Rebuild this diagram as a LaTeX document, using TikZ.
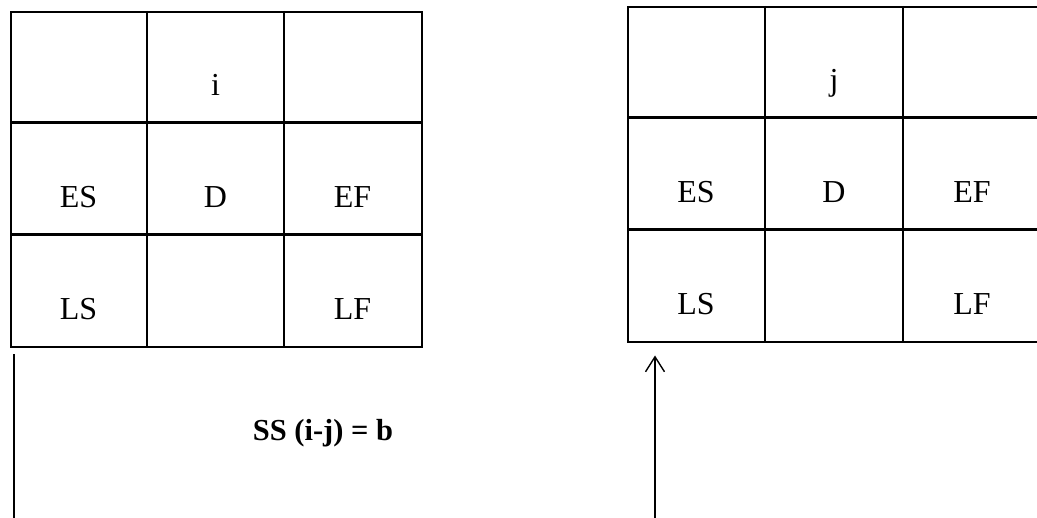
\documentclass[tikz,border=0pt]{standalone}
\usepackage{fontspec}
\setmainfont{Liberation Serif}
\usetikzlibrary{arrows.meta}

\begin{document}
\begin{tikzpicture}[x=1pt,y=-1pt,>={Straight Barb[length=15pt,width=19pt]},
  kotak/.style={draw,line width=2.4pt,inner sep=0pt,anchor=north west},
  isi/.style={anchor=base,font=\fontsize{32}{36}\selectfont},
  garis/.style={line width=1.4pt}]
\useasboundingbox (0,0) rectangle (1037,518);
\def\rh{111.7}
% two activity boxes, i and j
\foreach \x/\y/\w/\n in {10/11/137/i, 627/6/138/j} {
  \node[kotak,minimum width=3*\w,minimum height=3*\rh] (\n-box) at (\x,\y) {};
  \foreach \k in {1,2} {
    \draw[line width=2.4pt] (\x+\k*\w,\y) -- (\x+\k*\w,\y+3*\rh);
    \draw[line width=2.4pt] (\x,\y+\k*\rh) -- (\x+3*\w,\y+\k*\rh);
  }
  \node[isi] (\n-nama) at (\x+1.5*\w,\y+85) {\n};
  \node[isi] (\n-ES) at (\x+0.5*\w,\y+\rh+85) {ES};
  \node[isi] (\n-D) at (\x+1.5*\w,\y+\rh+85) {D};
  \node[isi] (\n-EF) at (\x+2.5*\w,\y+\rh+85) {EF};
  \node[isi] (\n-LS) at (\x+0.5*\w,\y+2*\rh+85) {LS};
  \node[isi] (\n-LF) at (\x+2.5*\w,\y+2*\rh+85) {LF};
}
\coordinate (i-bawah) at (14,518);
\coordinate (j-bawah) at (655,518);
\draw[garis] ([xshift=4pt,yshift=-6pt]i-box.south west) -- (i-bawah);
\draw[garis,->] (j-bawah) -- ([xshift=28pt,yshift=-12pt]j-box.south west);
\node[anchor=base,font=\bfseries\fontsize{30.5}{34}\selectfont] (lag) at (323,441) {SS (i-j) = b};
\end{tikzpicture}
\end{document}
